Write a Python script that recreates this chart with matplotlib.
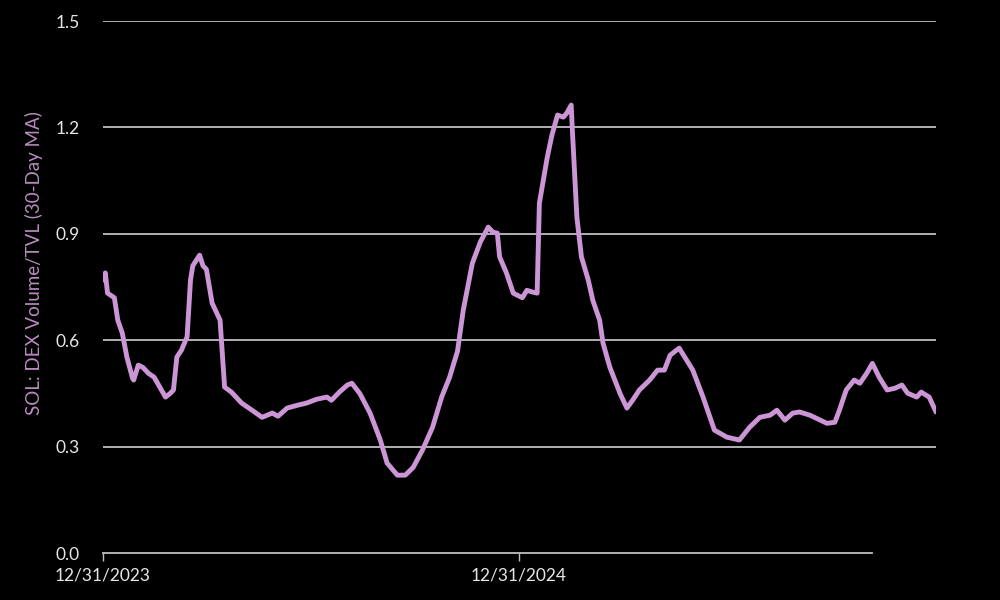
import pandas as pd
import matplotlib
matplotlib.use("Agg")
import matplotlib.pyplot as plt
import matplotlib.dates as mdates

# days since 12/31/2023 and the 30-day MA of DEX volume / TVL
days = [0, 2, 4, 10, 13, 17, 21, 26, 27, 31, 35, 40, 45, 50, 55, 59, 62, 65,
        69, 74, 77, 79, 85, 88, 91, 96, 103, 107, 113, 122, 128, 140, 149, 154,
        162, 171, 179, 188, 197, 201, 208, 215, 219, 226, 235, 244, 250, 259,
        266, 273, 281, 290, 298, 305, 312, 317, 325, 332, 339, 343, 347, 349,
        355, 361, 369, 373, 378, 382, 384, 391, 395, 400, 405, 408, 412, 413,
        417, 421, 427, 431, 437, 440, 446, 455, 461, 466, 472, 481, 488, 494,
        499, 507, 519, 528, 538, 549, 560, 569, 578, 587, 593, 600, 607, 613,
        622, 626, 637, 644, 648, 654, 661, 666, 672, 677, 683, 690, 697, 703,
        708, 716, 720, 727, 733]
ratio = [0.77, 0.79, 0.733, 0.72, 0.657, 0.62, 0.553, 0.493, 0.488, 0.53,
         0.524, 0.507, 0.496, 0.468, 0.44, 0.45, 0.46, 0.553, 0.572, 0.61,
         0.77, 0.81, 0.84, 0.81, 0.80, 0.705, 0.657, 0.468, 0.454, 0.423,
         0.41, 0.383, 0.395, 0.386, 0.409, 0.417, 0.423, 0.434, 0.44, 0.431,
         0.454, 0.474, 0.479, 0.45, 0.395, 0.319, 0.254, 0.22, 0.22, 0.242,
         0.29, 0.355, 0.44, 0.496, 0.57, 0.685, 0.817, 0.877, 0.919, 0.905,
         0.902, 0.835, 0.79, 0.733, 0.72, 0.741, 0.736, 0.733, 0.987, 1.117,
         1.178, 1.235, 1.229, 1.24, 1.263, 1.193, 0.947, 0.835, 0.77, 0.713,
         0.657, 0.592, 0.524, 0.45, 0.409, 0.431, 0.46, 0.488, 0.516, 0.516,
         0.558, 0.578, 0.516, 0.44, 0.347, 0.327, 0.319, 0.355, 0.383, 0.389,
         0.403, 0.375, 0.395, 0.398, 0.389, 0.383, 0.366, 0.369, 0.403, 0.46,
         0.488, 0.479, 0.507, 0.535, 0.496, 0.46, 0.465, 0.474, 0.451, 0.44,
         0.454, 0.44, 0.398]
tick_dates = ["2023-12-31", "2024-12-31"]
tick_labels = ["12/31/2023", "12/31/2024"]
y_ticks = [0.0, 0.3, 0.6, 0.9, 1.2, 1.5]

start = pd.Timestamp("2023-12-31")
dates = start + pd.to_timedelta(days, unit="D")

plt.rcParams['font.family'] = ['Lato', 'DejaVu Sans']

fig = plt.figure(figsize=(10, 6), dpi=100, facecolor='black')
ax = fig.add_axes([0.103, 0.078, 0.833, 0.887], facecolor='black')

for y in y_ticks[1:]:
    ax.axhline(y, color='#bfbfbf', linewidth=1.3, zorder=1)

ax.plot(dates, ratio, color='#cc96d6', linewidth=3.5, solid_joinstyle='round',
        solid_capstyle='round', zorder=3)

ax.set_ylim(0, 1.5)
ax.set_xlim(start, dates[-1])
ax.set_yticks(y_ticks)
ax.set_yticklabels([f"{v:.1f}" for v in y_ticks])
ax.set_xticks(pd.to_datetime(tick_dates))
ax.set_xticklabels(tick_labels)

for side in ['top', 'right', 'left']:
    ax.spines[side].set_visible(False)
ax.spines['bottom'].set_color('#bfbfbf')
ax.spines['bottom'].set_linewidth(1.3)
ax.spines['bottom'].set_bounds(mdates.date2num(start),
                               mdates.date2num(start + pd.Timedelta(days=677)))

ax.tick_params(axis='y', length=0, pad=17, labelcolor='#e6e6e6', labelsize=12.5)
ax.tick_params(axis='x', length=6, width=1, color='#bfbfbf', direction='in',
               pad=10, labelcolor='#e6e6e6', labelsize=12.5)
for t in ax.xaxis.get_major_ticks():
    t.tick1line.set_marker(3)

ax.set_ylabel('SOL: DEX Volume/TVL (30-Day MA)', color='#b98bc0', fontsize=13.5)
ax.yaxis.set_label_coords(-0.072, 0.545)

fig.savefig('out.png', dpi=100, facecolor='black')
